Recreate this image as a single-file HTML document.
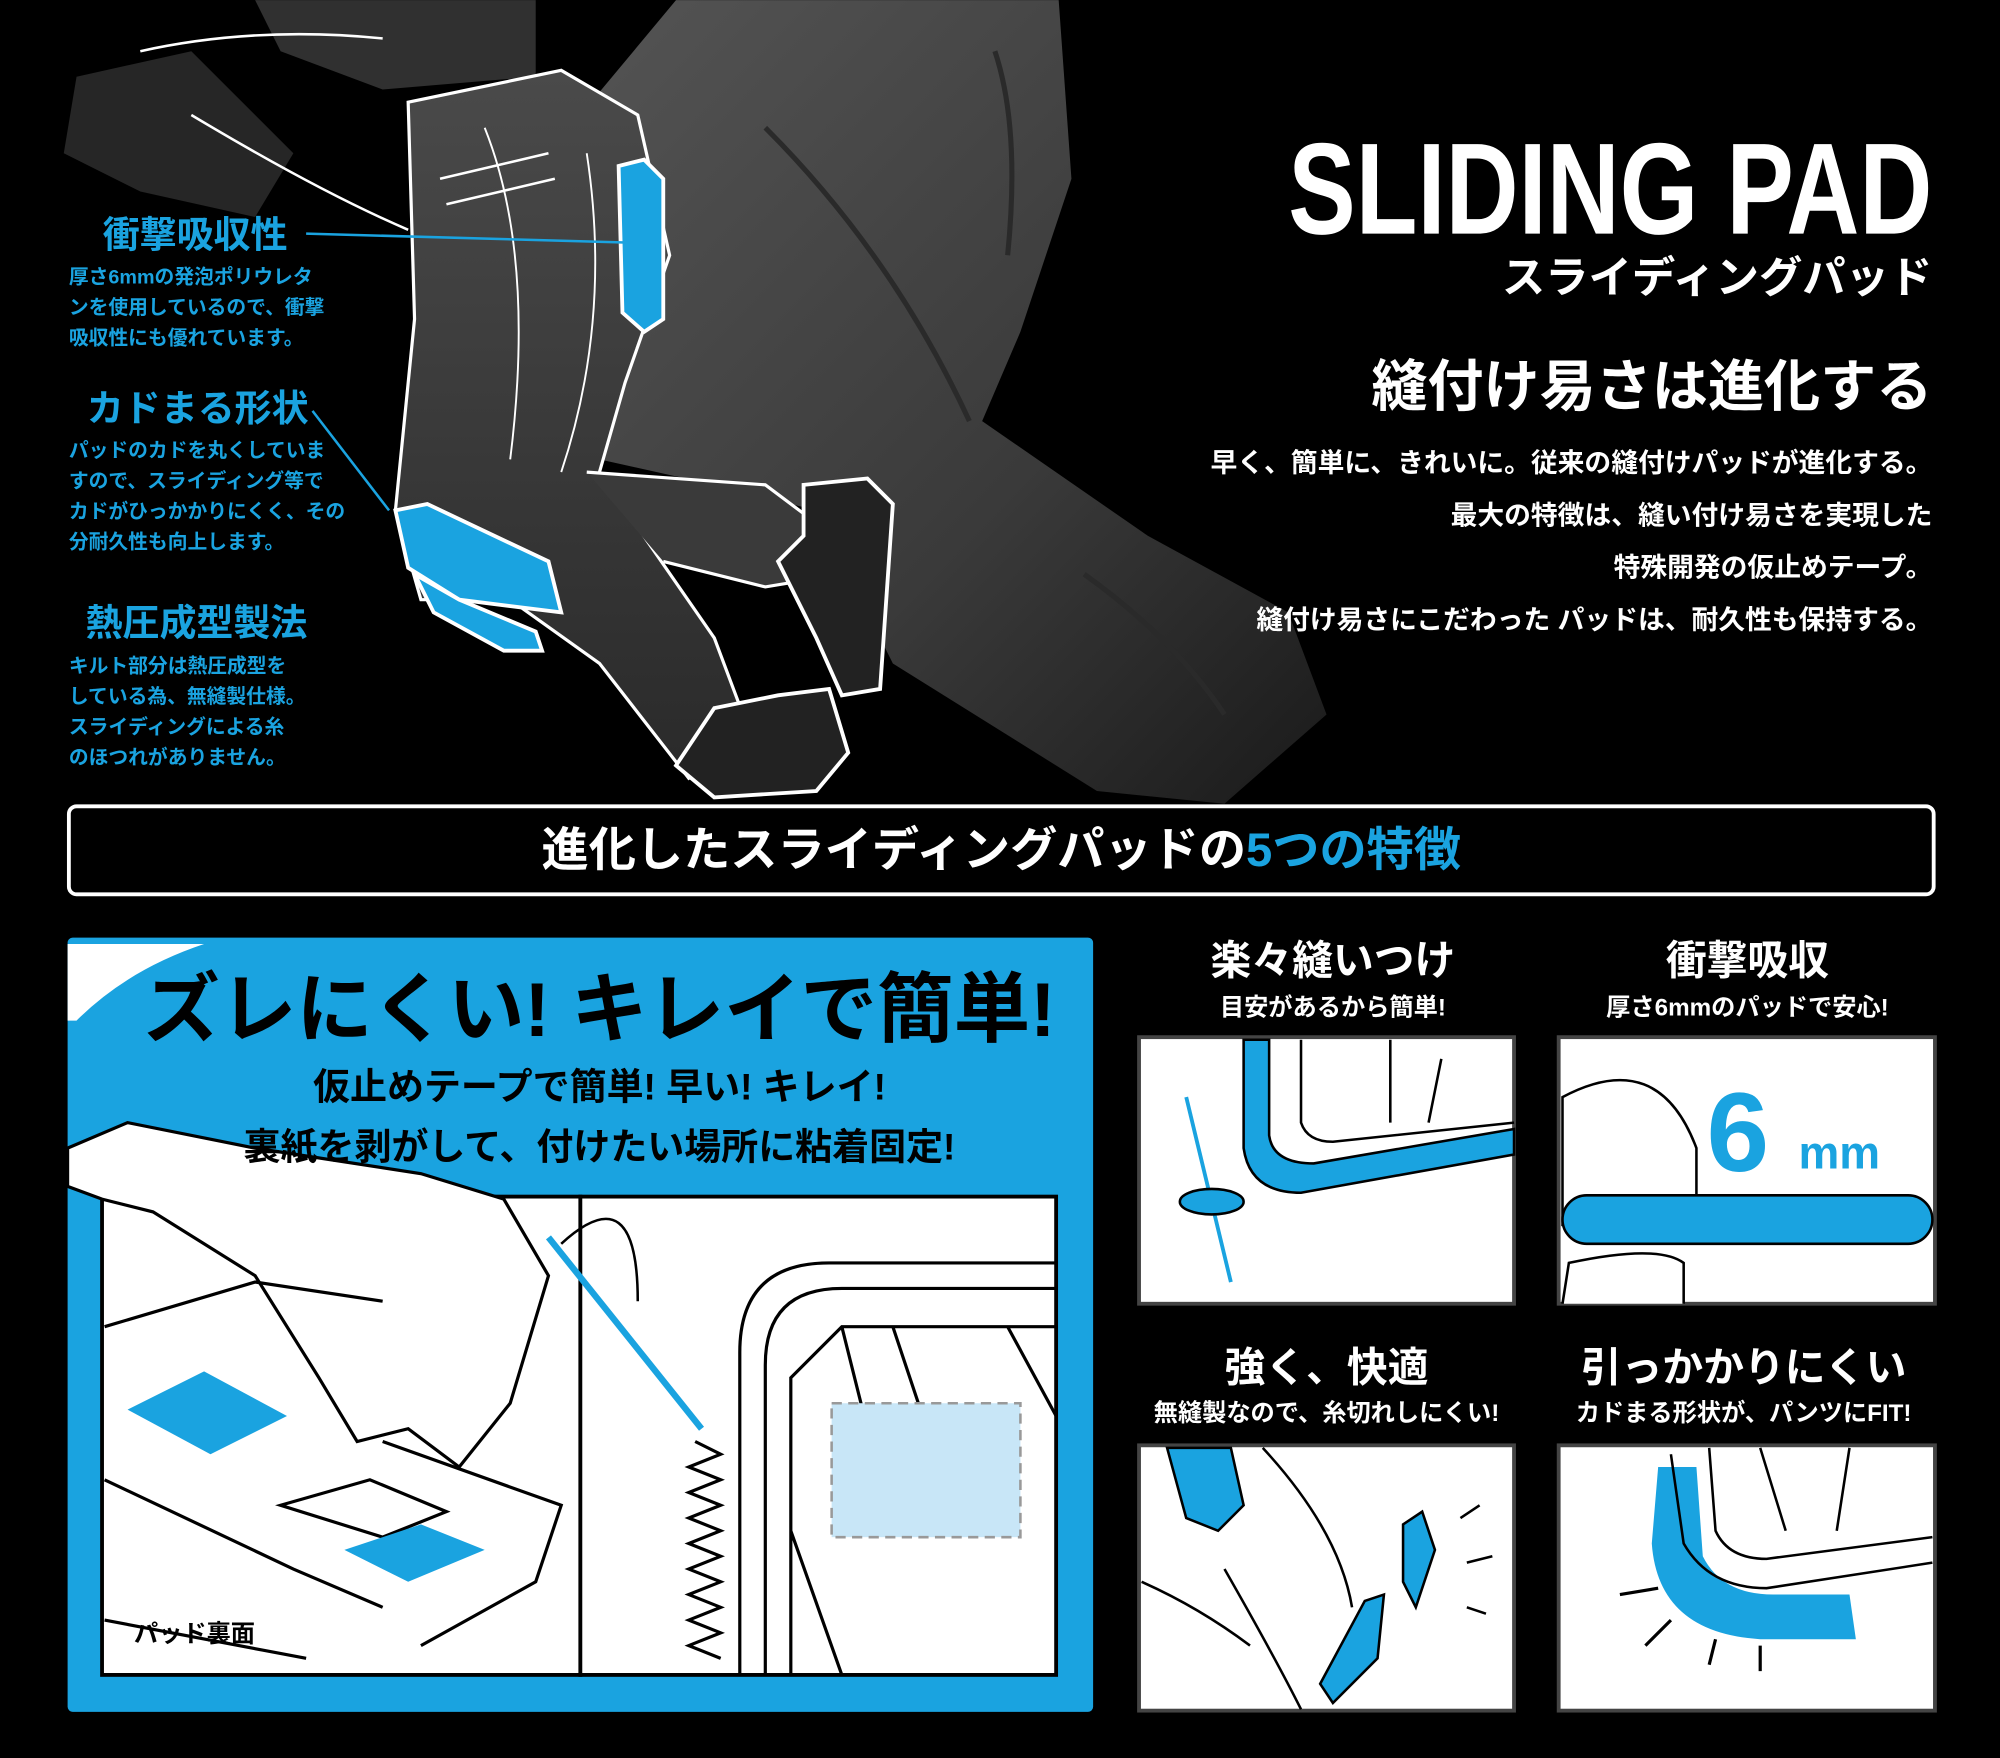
<!DOCTYPE html>
<html><head><meta charset="utf-8"><style>
html,body{margin:0;padding:0;background:#000;}
svg{display:block}
text{font-family:"Liberation Sans","Noto Sans CJK JP",sans-serif;}
</style></head><body>
<svg width="2000" height="1758" viewBox="0 0 1568 1378" xmlns="http://www.w3.org/2000/svg">
<defs>
<linearGradient id="pg" x1="0" y1="0" x2="1" y2="1">
<stop offset="0" stop-color="#555"/><stop offset="0.6" stop-color="#3a3a3a"/><stop offset="1" stop-color="#1a1a1a"/>
</linearGradient>
<linearGradient id="pg2" x1="0" y1="0" x2="0" y2="1">
<stop offset="0" stop-color="#4a4a4a"/><stop offset="1" stop-color="#2a2a2a"/>
</linearGradient>
</defs>
<rect width="1568" height="1378" fill="#000"/>
<path d="M60 60 L150 40 L230 120 L200 170 L110 150 L50 120Z" fill="#262626"/>
<path d="M200 0 L420 0 L420 60 L300 70 L220 40Z" fill="#303030"/>
<path d="M530 0 L830 0 L840 140 L800 260 L770 330 L900 420 L1010 480 L1040 560 L960 630 L860 620 L700 520 L640 400 L560 380 L470 360 L430 250 L430 120Z" fill="url(#pg)"/>
<path d="M600 100 Q700 200 760 330 M780 40 Q800 100 790 200 M850 450 Q920 500 960 560" fill="none" stroke="#2a2a2a" stroke-width="4"/>
<path d="M320 80 L440 55 L500 90 L525 200 L490 300 L470 370 L560 500 L590 580 L540 610 L470 520 L400 470 L330 470 L310 400 L325 250Z" fill="url(#pg2)" stroke="#fff" stroke-width="2.5"/>
<path d="M460 370 L600 380 L640 410 L660 450 L600 460 L520 440" fill="#3a3a3a" stroke="#fff" stroke-width="2.5"/>
<path d="M150 90 Q250 150 320 180" fill="none" stroke="#fff" stroke-width="2"/>
<path d="M110 40 Q200 20 300 30" fill="none" stroke="#fff" stroke-width="2"/>
<path d="M345 140 L430 120 M350 160 L435 140" stroke="#fff" stroke-width="2"/>
<path d="M380 100 Q420 200 400 360 M460 120 Q480 250 440 370" fill="none" stroke="#fff" stroke-width="1.5"/>
<path d="M485 130 L505 125 L520 140 L520 250 L505 260 L488 245Z" fill="#1aa3e0" stroke="#fff" stroke-width="3"/>
<path d="M310 400 L335 395 L430 440 L440 480 L360 470 L320 445Z" fill="#1aa3e0" stroke="#fff" stroke-width="3"/>
<path d="M325 450 L360 470 L420 495 L425 510 L395 510 L340 480Z" fill="#1aa3e0" stroke="#fff" stroke-width="3"/>
<path d="M630 380 L680 375 L700 395 L690 540 L660 545 L640 500 L610 440 L630 420Z" fill="#222" stroke="#fff" stroke-width="3"/>
<path d="M560 555 L610 545 L650 540 L665 590 L640 620 L560 625 L530 600Z" fill="#222" stroke="#fff" stroke-width="3"/>
<line x1="240" y1="183" x2="490" y2="190" stroke="#1aa3e0" stroke-width="2"/>
<line x1="245" y1="322" x2="305" y2="400" stroke="#1aa3e0" stroke-width="2"/>
<g fill="#1aa3e0" font-weight="bold">
<text x="153" y="194" font-size="29" text-anchor="middle">衝撃吸収性</text>
<text x="155" y="330" font-size="29" text-anchor="middle">カドまる形状</text>
<text x="154" y="498" font-size="29" text-anchor="middle">熱圧成型製法</text>
<g font-size="15.5">
<text x="54" y="222">厚さ6mmの発泡ポリウレタ</text>
<text x="54" y="246">ンを使用しているので、衝撃</text>
<text x="54" y="270">吸収性にも優れています。</text>
<text x="54" y="358">パッドのカドを丸くしていま</text>
<text x="54" y="382">すので、スライディング等で</text>
<text x="54" y="406">カドがひっかかりにくく、その</text>
<text x="54" y="430">分耐久性も向上します。</text>
<text x="54" y="527">キルト部分は熱圧成型を</text>
<text x="54" y="551">している為、無縫製仕様。</text>
<text x="54" y="575">スライディングによる糸</text>
<text x="54" y="599">のほつれがありません。</text>
</g></g>
<text x="1515" y="183" font-size="102" fill="#fff" text-anchor="end" font-weight="bold" font-family="Liberation Sans Narrow, Liberation Sans, sans-serif" textLength="505" lengthAdjust="spacingAndGlyphs">SLIDING PAD</text>
<text x="1515" y="229" font-size="34" fill="#fff" text-anchor="end" font-weight="bold">スライディングパッド</text>
<text x="1515" y="318" font-size="44" fill="#fff" text-anchor="end" font-weight="bold">縫付け易さは進化する</text>
<g fill="#fff" font-size="21" font-weight="bold" text-anchor="end">
<text x="1515" y="370">早く、簡単に、きれいに。従来の縫付けパッドが進化する。</text>
<text x="1515" y="411">最大の特徴は、縫い付け易さを実現した</text>
<text x="1515" y="452">特殊開発の仮止めテープ。</text>
<text x="1515" y="493">縫付け易さにこだわった パッドは、耐久性も保持する。</text>
</g>
<rect x="54" y="632" width="1462" height="69" rx="6" fill="#000" stroke="#fff" stroke-width="3"/>
<text x="785" y="679" font-size="37" font-weight="bold" text-anchor="middle" fill="#fff">進化したスライディングパッドの<tspan fill="#1aa3e0">5つの特徴</tspan></text>
<rect x="53" y="735" width="804" height="607" rx="4" fill="#1aa3e0"/>
<path d="M53 740 L160 740 Q100 760 60 800 L53 800Z" fill="#fff"/>
<rect x="80" y="938" width="375" height="375" fill="#fff" stroke="#000" stroke-width="3"/>
<rect x="455" y="938" width="373" height="375" fill="#fff" stroke="#000" stroke-width="3"/>
<path d="M53 900 L100 880 L200 900 L330 920 L395 940 L430 1000 L400 1100 L360 1150 L320 1120 L280 1130 L250 1080 L200 1000 L120 950 L80 940 L53 930Z" fill="#fff" stroke="#000" stroke-width="2.5"/>
<g fill="none" stroke="#000" stroke-width="2.5">
<path d="M82 1040 L200 1005 L300 1020 M82 1160 L230 1230 L300 1260 M82 1270 L240 1300 M300 1130 L440 1180 L420 1240 L330 1290"/>
<path d="M220 1180 L290 1160 L350 1185 L300 1205Z"/>
<path d="M580 1313 L580 1060 Q580 990 650 990 L828 990 M600 1313 L600 1070 Q600 1010 660 1010 L828 1010"/>
<path d="M620 1313 L620 1080 L660 1040 L828 1040 M660 1040 L700 1200 M700 1040 L720 1100 M790 1040 L828 1110 M620 1200 L660 1313"/>
<path d="M545 1130 L565 1140 L540 1150 L565 1160 L540 1170 L565 1180 L540 1190 L565 1200 L540 1210 L565 1220 L540 1230 L565 1240 L540 1250 L565 1260 L540 1270 L565 1280 L540 1290 L565 1300"/>
</g>
<polygon points="100,1105 160,1075 225,1110 165,1140" fill="#1aa3e0"/>
<polygon points="270,1215 330,1195 380,1215 320,1240" fill="#1aa3e0"/>
<rect x="652" y="1100" width="148" height="105" fill="#c8e6f7" stroke="#999" stroke-width="2" stroke-dasharray="8 5"/>
<line x1="430" y1="970" x2="550" y2="1120" stroke="#1aa3e0" stroke-width="5"/>
<path d="M440 975 Q500 920 500 1020" fill="none" stroke="#000" stroke-width="2"/>
<text x="105" y="1287" font-size="19" font-weight="bold" fill="#000">パッド裏面</text>
<text x="470" y="812" font-size="60" font-weight="bold" text-anchor="middle" fill="#000">ズレにくい! キレイで簡単!</text>
<text x="470" y="862" font-size="29" font-weight="bold" text-anchor="middle" fill="#000">仮止めテープで簡単! 早い! キレイ!</text>
<text x="470" y="909" font-size="29" font-weight="bold" text-anchor="middle" fill="#000">裏紙を剥がして、付けたい場所に粘着固定!</text>
<g fill="#fff" font-weight="bold" text-anchor="middle">
<text x="1045" y="764" font-size="32">楽々縫いつけ</text>
<text x="1045" y="796" font-size="19">目安があるから簡単!</text>
<text x="1370" y="764" font-size="32">衝撃吸収</text>
<text x="1370" y="796" font-size="19">厚さ6mmのパッドで安心!</text>
<text x="1040" y="1083" font-size="32">強く、快適</text>
<text x="1040" y="1114" font-size="19">無縫製なので、糸切れしにくい!</text>
<text x="1367" y="1083" font-size="32">引っかかりにくい</text>
<text x="1367" y="1114" font-size="19">カドまる形状が、パンツにFIT!</text>
</g>
<rect x="893" y="813" width="294" height="209" fill="#fff" stroke="#444" stroke-width="3"/>
<rect x="1222" y="813" width="295" height="209" fill="#fff" stroke="#444" stroke-width="3"/>
<rect x="893" y="1133" width="294" height="208" fill="#fff" stroke="#444" stroke-width="3"/>
<rect x="1222" y="1133" width="295" height="208" fill="#fff" stroke="#444" stroke-width="3"/>
<path d="M975 815 L975 900 Q980 935 1020 935 L1187 905 L1187 885 L1030 912 Q998 912 995 890 L995 815Z" fill="#1aa3e0" stroke="#000" stroke-width="2"/>
<path d="M1020 815 L1020 880 Q1025 895 1045 895 L1187 880 M1090 815 L1090 880 M1130 830 L1120 880" fill="none" stroke="#000" stroke-width="2"/>
<line x1="930" y1="860" x2="965" y2="1005" stroke="#1aa3e0" stroke-width="3"/>
<ellipse cx="950" cy="942" rx="25" ry="10" fill="#1aa3e0" stroke="#000" stroke-width="2"/>
<path d="M1225 860 Q1300 820 1330 900 L1330 940 L1225 960Z" fill="#fff" stroke="#000" stroke-width="2"/>
<path d="M1225 1022 L1230 990 Q1300 975 1320 990 L1320 1022" fill="#fff" stroke="#000" stroke-width="2"/>
<rect x="1225" y="937" width="290" height="38" rx="19" fill="#1aa3e0" stroke="#000" stroke-width="2"/>
<text x="1338" y="918" font-size="88" font-weight="bold" fill="#1aa3e0">6</text>
<text x="1410" y="916" font-size="36" font-weight="bold" fill="#1aa3e0">mm</text>
<path d="M915 1135 L965 1135 L975 1180 L955 1200 L930 1190Z" fill="#1aa3e0" stroke="#000" stroke-width="2"/>
<path d="M1100 1195 L1115 1185 L1125 1215 L1110 1260 L1100 1240Z" fill="#1aa3e0" stroke="#000" stroke-width="2"/>
<path d="M1070 1255 L1085 1250 L1080 1300 L1045 1335 L1035 1320Z" fill="#1aa3e0" stroke="#000" stroke-width="2"/>
<path d="M990 1135 Q1050 1200 1060 1260 M960 1230 Q1000 1300 1020 1340 M895 1240 Q940 1260 980 1290" fill="none" stroke="#000" stroke-width="2"/>
<path d="M1145 1190 L1160 1180 M1150 1225 L1170 1220 M1150 1260 L1165 1265" stroke="#000" stroke-width="2"/>
<path d="M1300 1150 L1330 1150 L1335 1220 Q1350 1250 1390 1250 L1450 1250 L1455 1285 L1380 1285 Q1300 1280 1295 1210Z" fill="#1aa3e0"/>
<path d="M1310 1140 L1320 1210 Q1340 1245 1385 1245 L1515 1225 M1340 1135 L1345 1200 Q1355 1222 1385 1222 L1515 1205 M1380 1135 L1400 1200 M1450 1135 L1440 1200" fill="none" stroke="#000" stroke-width="2"/>
<path d="M1270 1250 L1300 1245 M1290 1290 L1310 1270 M1340 1305 L1345 1285 M1380 1310 L1380 1290" stroke="#000" stroke-width="2.5"/>
</svg>
</body></html>
